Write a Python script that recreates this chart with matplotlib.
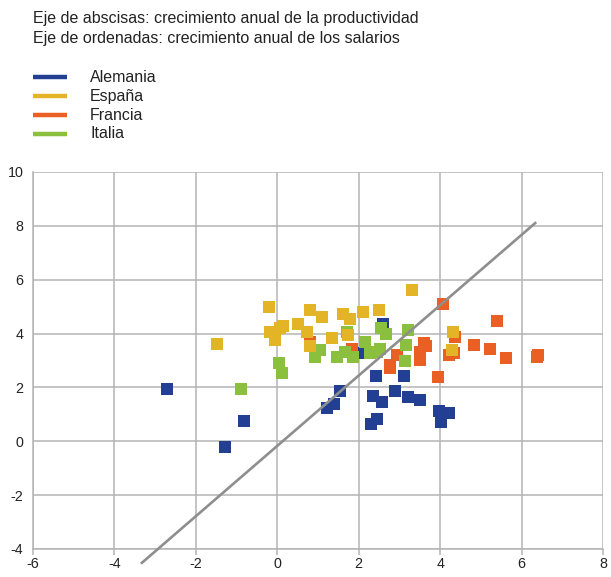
import matplotlib
matplotlib.use("Agg")
import matplotlib.pyplot as plt
from matplotlib.lines import Line2D

plt.rcParams['font.family'] = ['Liberation Sans', 'DejaVu Sans']

# Productividad (x) y salarios (y), crecimiento anual en %
alemania_x = [-2.72, -1.28, -0.81, 1.22, 1.40, 1.55, 2.12, 2.30, 2.35, 2.43,
              2.45, 2.57, 2.59, 2.90, 3.12, 3.22, 3.51, 3.98, 4.21, 4.02]
alemania_y = [1.93, -0.21, 0.75, 1.24, 1.38, 1.87, 3.26, 0.63, 1.67, 2.43,
              0.84, 1.46, 4.34, 1.87, 2.43, 1.65, 1.52, 1.13, 1.05, 0.72]

francia_x = [4.07, 5.39, 4.37, 4.82, 5.23, 5.62, 6.40, 6.37, 3.60, 3.66,
             3.51, 3.51, 4.21, 4.33, 2.94, 2.76, 2.78, 3.94, 0.81, 1.83]
francia_y = [5.09, 4.47, 3.88, 3.57, 3.42, 3.10, 3.22, 3.13, 3.65, 3.55,
             3.32, 3.01, 3.22, 3.28, 3.20, 2.85, 2.73, 2.39, 3.69, 3.44]

italia_x = [-0.88, 0.05, 0.11, 0.93, 1.06, 1.46, 1.67, 1.71, 1.87, 2.16,
            2.28, 2.45, 2.53, 2.55, 2.67, 3.22, 3.17, 3.14]
italia_y = [1.93, 2.91, 2.54, 3.13, 3.38, 3.13, 3.32, 4.06, 3.13, 3.69,
            3.26, 3.32, 3.44, 4.22, 3.98, 4.13, 3.57, 2.97]

espana_x = [-1.47, -0.20, -0.17, 0.07, 0.14, -0.05, 0.51, 0.73, 0.81, 0.81,
            1.10, 1.34, 1.61, 1.73, 1.79, 2.10, 2.50, 3.30, 4.31, 4.29]
espana_y = [3.62, 4.99, 4.06, 4.20, 4.27, 3.75, 4.34, 4.06, 4.87, 3.54,
            4.62, 3.84, 4.71, 3.94, 4.53, 4.81, 4.87, 5.61, 4.06, 3.38]

# Recta de ajuste
trend_slope = 1.306
trend_intercept = -0.17
trend_x = [-3.35, 6.36]

x_ticks = [-6, -4, -2, 0, 2, 4, 6, 8]
y_ticks = [-4, -2, 0, 2, 4, 6, 8, 10]

series_names = ['Alemania', 'España', 'Francia', 'Italia']

C_ALE = '#233F94'
C_ESP = '#E3B526'
C_FRA = '#EA6024'
C_ITA = '#8BBF3E'
GRID = '#B4B4B4'
TXT = '#222222'

W, H = 611, 577
fig = plt.figure(figsize=(W / 100, H / 100), dpi=100)
ax = fig.add_axes([33 / W, 28 / H, 570 / W, 377 / H])

ms = 8.4
ax.plot(alemania_x, alemania_y, 's', color=C_ALE, ms=ms, mew=0, zorder=3)
ax.plot(francia_x, francia_y, 's', color=C_FRA, ms=ms, mew=0, zorder=4)
ax.plot(italia_x, italia_y, 's', color=C_ITA, ms=ms, mew=0, zorder=5)
ax.plot(espana_x, espana_y, 's', color=C_ESP, ms=ms, mew=0, zorder=6)

ty = [trend_slope * v + trend_intercept for v in trend_x]
ax.plot(trend_x, ty, color='#8E8E8E', lw=1.9, zorder=7, clip_on=False,
        solid_capstyle='butt')

ax.set_xlim(-6, 8)
ax.set_ylim(-4, 10)
ax.set_xticks(x_ticks)
ax.set_yticks(y_ticks)
ax.set_xticklabels([str(v) for v in x_ticks])
ax.set_yticklabels([str(v) for v in y_ticks])
ax.grid(True, color=GRID, lw=1.1, zorder=0)
ax.set_axisbelow(True)
for s in ['top', 'right']:
    ax.spines[s].set_visible(False)
for s in ['left', 'bottom']:
    ax.spines[s].set_color(GRID)
    ax.spines[s].set_linewidth(1.1)
ax.tick_params(axis='x', length=4, width=1.1, color=GRID, labelsize=10.3,
               labelcolor=TXT, pad=2, direction='out')
ax.tick_params(axis='y', length=0, labelsize=10.3, labelcolor=TXT, pad=7)

fig.text(33 / W, 1 - 18 / H,
         'Eje de abscisas: crecimiento anual de la productividad',
         fontsize=11.5, color=TXT, va='center', ha='left')
fig.text(33 / W, 1 - 38 / H,
         'Eje de ordenadas: crecimiento anual de los salarios',
         fontsize=11.5, color=TXT, va='center', ha='left')

# Leyenda: trazo de color y nombre del país
for i, (name, col) in enumerate(zip(series_names, (C_ALE, C_ESP, C_FRA, C_ITA))):
    yy = 1 - (77 + 19 * i) / H
    fig.add_artist(Line2D([33 / W, 67 / W], [yy, yy], color=col, lw=3.2,
                          transform=fig.transFigure, solid_capstyle='butt'))
    fig.text(90 / W, yy, name, fontsize=11.5, color=TXT, va='center', ha='left')

fig.savefig('out.png', dpi=100)
